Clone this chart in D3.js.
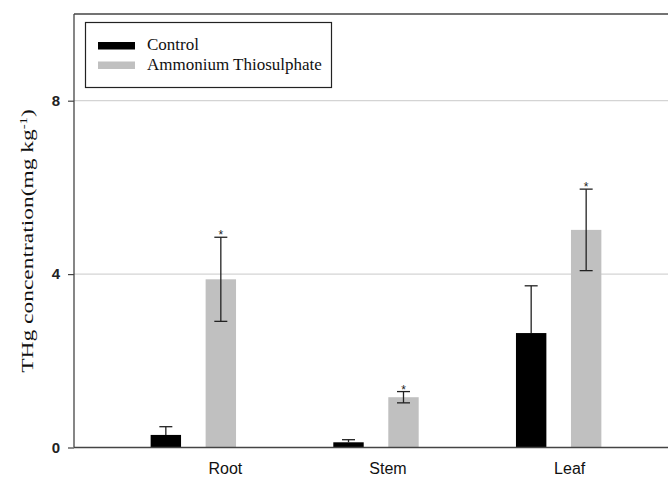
<!DOCTYPE html>
<html><head><meta charset="utf-8">
<script src="https://cdn.jsdelivr.net/npm/d3@7"></script>
<style>body{margin:0;background:#fff}</style>
</head><body>
<svg id="c" width="668" height="479"></svg>
<script>
const categories = ["Root", "Stem", "Leaf"];
const seriesNames = ["Control", "Ammonium Thiosulphate"];
const controlValues = [0.29, 0.12, 2.64];
const controlErrors = [0.19, 0.06, 1.09];
const treatmentValues = [3.88, 1.16, 5.02];
const treatmentErrors = [0.97, 0.13, 0.94];
const significant = [true, true, true];
const yTicks = [0, 4, 8];

(function () {
const colors = ["#000000", "#c0c0c0"];
const svg = d3.select("#c");
const pLeft = 74, pRight = 668, pTop = 14, pBottom = 447.5;

const y = d3.scaleLinear().domain([0, 10]).range([pBottom, pTop]);
const x = d3.scaleBand().domain(categories).range([102, 650]).padding(0);
const xs = d3.scaleBand().domain(seriesNames).range([-42.7, 42.7]).paddingInner(0.447);

// gridlines
svg.append("g").selectAll("line").data(yTicks.filter(d => d > 0)).join("line")
  .attr("x1", pLeft).attr("x2", pRight).attr("y1", d => y(d)).attr("y2", d => y(d))
  .attr("stroke", "#d4d4d4").attr("stroke-width", 1.2);

// frame top
svg.append("line").attr("x1", pLeft).attr("x2", pRight).attr("y1", pTop).attr("y2", pTop)
  .attr("stroke", "#444").attr("stroke-width", 1.3);

const data = [];
categories.forEach((c, i) => {
  data.push({cat: c, s: seriesNames[0], v: controlValues[i], e: controlErrors[i], sig: false, idx: 0});
  data.push({cat: c, s: seriesNames[1], v: treatmentValues[i], e: treatmentErrors[i], sig: significant[i], idx: 1});
});

svg.append("g").selectAll("rect").data(data).join("rect")
  .attr("x", d => x(d.cat) + x.bandwidth() / 2 + xs(d.s))
  .attr("width", xs.bandwidth())
  .attr("y", d => y(d.v))
  .attr("height", d => y(0) - y(d.v))
  .attr("fill", d => colors[d.idx]);

const cap = 6.5;
const eb = svg.append("g").attr("stroke", "#222").attr("stroke-width", 1.3);
data.forEach(d => {
  const cx = x(d.cat) + x.bandwidth() / 2 + xs(d.s) + xs.bandwidth() / 2;
  const lo = d.idx === 0 ? d.v : d.v - d.e;
  eb.append("line").attr("x1", cx).attr("x2", cx).attr("y1", y(lo)).attr("y2", y(d.v + d.e));
  eb.append("line").attr("x1", cx - cap).attr("x2", cx + cap).attr("y1", y(d.v + d.e)).attr("y2", y(d.v + d.e));
  if (d.idx === 1) eb.append("line").attr("x1", cx - cap).attr("x2", cx + cap).attr("y1", y(d.v - d.e)).attr("y2", y(d.v - d.e));
  if (d.sig) svg.append("text").attr("x", cx).attr("y", y(d.v + d.e) + 2)
    .attr("text-anchor", "middle").attr("font-family", "Liberation Sans, Arial, sans-serif")
    .attr("font-size", 12).attr("fill", "#222").text("*");
});

// y axis
const yAxis = svg.append("g").attr("transform", `translate(${pLeft},0)`)
  .call(d3.axisLeft(y).tickValues(yTicks).tickSize(6).tickPadding(8).tickFormat(d3.format("d")));
yAxis.select(".domain").attr("stroke", "#444").attr("stroke-width", 1.3).attr("d", `M0,${pTop}V${pBottom}`);
yAxis.selectAll(".tick line").attr("stroke", "#444").attr("stroke-width", 1.2);
yAxis.selectAll(".tick text").attr("font-family", "Liberation Sans, Arial, sans-serif")
  .attr("font-size", 15).attr("font-weight", "bold").attr("fill", "#222");

// x axis line
svg.append("line").attr("x1", pLeft).attr("x2", pRight).attr("y1", pBottom).attr("y2", pBottom)
  .attr("stroke", "#444").attr("stroke-width", 1.3);

// x labels
const labelDx = [32, 12, 11];
svg.append("g").selectAll("text").data(categories).join("text")
  .attr("x", (d, i) => x(d) + x.bandwidth() / 2 + labelDx[i])
  .attr("y", 474)
  .attr("text-anchor", "middle")
  .attr("font-family", "Liberation Sans, Arial, sans-serif").attr("font-size", 16)
  .attr("fill", "#111").text(d => d);

// y label
const yl = svg.append("text").attr("transform", "translate(33,241) rotate(-90) scale(1.34,1)")
  .attr("text-anchor", "middle").attr("font-family", "Liberation Serif, Times New Roman, serif")
  .attr("font-size", 17.5).attr("fill", "#111");
yl.append("tspan").text("THg concentration(mg kg");
yl.append("tspan").attr("dy", -6).attr("font-size", 11).text("-1");
yl.append("tspan").attr("dy", 6).text(")");

// legend
const lg = svg.append("g");
lg.append("rect").attr("x", 85.5).attr("y", 22.5).attr("width", 246).attr("height", 65)
  .attr("fill", "#fff").attr("stroke", "#222").attr("stroke-width", 1.2);
seriesNames.forEach((s, i) => {
  lg.append("rect").attr("x", 98).attr("y", 42 + i * 19.5).attr("width", 37).attr("height", 7.5).attr("fill", colors[i]);
  lg.append("text").attr("x", 147).attr("y", 50 + i * 19.5)
    .attr("font-family", "Liberation Serif, Times New Roman, serif").attr("font-size", 17)
    .attr("fill", "#111").text(s);
});
})();
</script>
</body></html>
